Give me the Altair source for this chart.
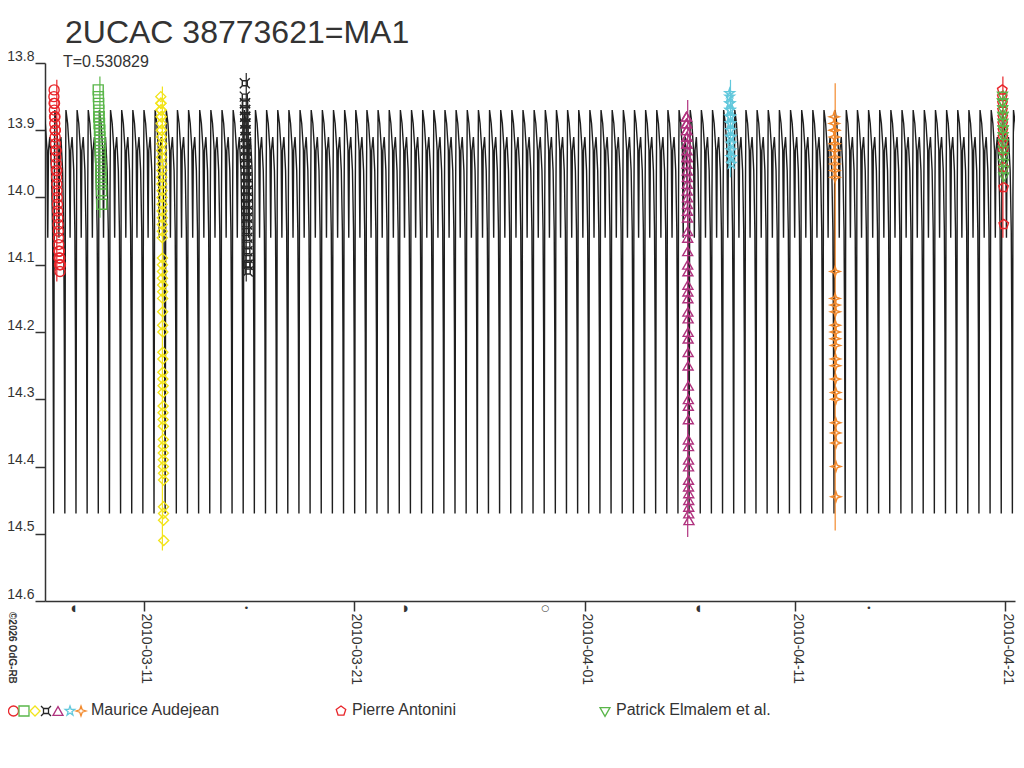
import altair as alt
import pandas as pd
from datetime import datetime, timezone

# ---------------- data ----------------
TITLE = "2UCAC 38773621=MA1"
SUBTITLE = "T=0.530829"
T_PERIOD = 0.530829
MIN_EPOCH = 24.748          # a model minimum, day of March 2010 (UTC, Mar 1 00:00 = 1.0)

# one cycle of the model light curve (phase from minimum, magnitude)
TEMPLATE_PHASE = [0.00, 0.05, 0.10, 0.25, 0.40, 0.47, 0.53, 0.65, 0.80, 0.90, 0.95]
TEMPLATE_MAG = [14.47, 14.00, 13.87, 13.89, 13.93, 14.06, 13.93, 13.91, 13.96, 14.05, 14.20]

DOMAIN_DAYS = [6.286, 52.476]
TICK_DAYS = [11, 21, 32, 42, 52]
Y_TICKS = [13.8, 13.9, 14.0, 14.1, 14.2, 14.3, 14.4, 14.5, 14.6]

MOON_DAYS = [7.654, 15.876, 23.458, 30.101, 37.401, 45.520]
MOON_SYMBOLS = ["◖", "•", "◗", "○", "◖", "•"]

# Maurice Audejean sessions
RED_T = [6.71, 6.72, 6.72, 6.73, 6.74, 6.74, 6.75, 6.76, 6.77, 6.77, 6.78, 6.79, 6.80, 6.80, 6.81, 6.82, 6.83, 6.84,
         6.85, 6.85, 6.86, 6.87, 6.88, 6.89, 6.90, 6.91, 6.92, 6.93, 6.94, 6.95, 6.96, 6.97, 6.98, 6.99, 7.00, 7.02]
RED_M = [13.85, 13.84, 13.86, 13.87, 13.86, 13.88, 13.89, 13.88, 13.90, 13.91, 13.90, 13.92, 13.93, 13.94, 13.93,
         13.95, 13.96, 13.97, 13.96, 13.98, 13.99, 14.00, 14.01, 14.02, 14.03, 14.04, 14.05, 14.06, 14.07, 14.08,
         14.09, 14.08, 14.10, 14.09, 14.11, 14.10]

GRN_T = [8.82, 8.83, 8.84, 8.85, 8.85, 8.86, 8.87, 8.88, 8.88, 8.89, 8.90, 8.91, 8.92, 8.93, 8.94, 8.95, 8.96, 8.97,
         8.98, 8.99]
GRN_M = [13.84, 13.85, 13.86, 13.87, 13.88, 13.88, 13.89, 13.89, 13.90, 13.90, 13.91, 13.92, 13.93, 13.94, 13.95,
         13.96, 13.97, 13.98, 13.99, 14.01]

YEL_T = [11.80, 11.80, 11.81, 11.81, 11.81, 11.82, 11.82, 11.82, 11.83, 11.83, 11.83, 11.84, 11.84, 11.84, 11.85,
         11.85, 11.85, 11.85, 11.86, 11.86, 11.86, 11.86, 11.87, 11.87, 11.87, 11.87, 11.88, 11.88, 11.88, 11.88,
         11.89, 11.89, 11.89, 11.89, 11.89, 11.90, 11.90, 11.90, 11.90, 11.90, 11.91, 11.91, 11.91, 11.91, 11.91,
         11.92, 11.92, 11.92, 11.92, 11.92, 11.92, 11.93, 11.93, 11.93, 11.93, 11.93, 11.94]
YEL_M = [13.85, 13.86, 13.86, 13.87, 13.87, 13.88, 13.88, 13.89, 13.90, 13.90, 13.91, 13.92, 13.93, 13.94, 13.95,
         13.96, 13.97, 13.98, 13.99, 14.00, 14.01, 14.02, 14.03, 14.04, 14.05, 14.06, 14.09, 14.10, 14.11, 14.12,
         14.13, 14.14, 14.15, 14.17, 14.19, 14.20, 14.23, 14.24, 14.26, 14.27, 14.28, 14.29, 14.31, 14.32, 14.33,
         14.34, 14.36, 14.37, 14.38, 14.39, 14.40, 14.41, 14.42, 14.46, 14.47, 14.48, 14.51]

BLK_T = [15.80, 15.80, 15.81, 15.81, 15.81, 15.82, 15.82, 15.82, 15.83, 15.83, 15.83, 15.84, 15.84, 15.84, 15.85,
         15.85, 15.85, 15.86, 15.86, 15.86, 15.86, 15.87, 15.87, 15.87, 15.88, 15.88, 15.88, 15.88, 15.89, 15.89,
         15.89, 15.90, 15.90, 15.90, 15.90, 15.91, 15.91, 15.91, 15.92, 15.92, 15.92, 15.93, 15.93, 15.93, 15.94]
BLK_M = [13.83, 13.85, 13.86, 13.86, 13.87, 13.87, 13.88, 13.88, 13.89, 13.89, 13.90, 13.90, 13.91, 13.91, 13.92,
         13.92, 13.93, 13.93, 13.94, 13.94, 13.95, 13.95, 13.96, 13.96, 13.97, 13.97, 13.98, 13.98, 13.99, 13.99,
         14.00, 14.01, 14.01, 14.02, 14.03, 14.03, 14.04, 14.05, 14.06, 14.07, 14.08, 14.09, 14.10, 14.10, 14.11]

PUR_T = [36.83, 36.83, 36.83, 36.84, 36.84, 36.84, 36.85, 36.85, 36.85, 36.85, 36.86, 36.86, 36.86, 36.86, 36.87,
         36.87, 36.87, 36.87, 36.88, 36.88, 36.88, 36.88, 36.89, 36.89, 36.89, 36.89, 36.90, 36.90, 36.90, 36.90,
         36.90, 36.91, 36.91, 36.91, 36.91, 36.91, 36.92, 36.92, 36.92, 36.92, 36.92, 36.93, 36.93, 36.93, 36.93,
         36.93, 36.94, 36.94, 36.94, 36.94, 36.95]
PUR_M = [13.88, 13.88, 13.89, 13.89, 13.90, 13.90, 13.91, 13.91, 13.92, 13.92, 13.93, 13.94, 13.94, 13.95, 13.96,
         13.97, 13.98, 13.99, 14.00, 14.01, 14.02, 14.03, 14.05, 14.06, 14.08, 14.10, 14.11, 14.13, 14.14, 14.15,
         14.17, 14.18, 14.20, 14.21, 14.23, 14.25, 14.28, 14.30, 14.31, 14.33, 14.36, 14.37, 14.39, 14.40, 14.42,
         14.43, 14.44, 14.45, 14.46, 14.47, 14.48]

CYN_T = [38.89, 38.89, 38.90, 38.90, 38.91, 38.91, 38.92, 38.92, 38.93, 38.93, 38.93, 38.94, 38.94, 38.95, 38.95,
         38.96, 38.96, 38.97]
CYN_M = [13.845, 13.85, 13.86, 13.86, 13.87, 13.87, 13.88, 13.88, 13.89, 13.89, 13.90, 13.91, 13.91, 13.92, 13.93,
         13.94, 13.94, 13.95]

ORG_T = [43.87, 43.87, 43.88, 43.88, 43.88, 43.89, 43.89, 43.89, 43.90, 43.90, 43.90, 43.91, 43.91, 43.91, 43.91,
         43.92, 43.92, 43.92, 43.92, 43.93, 43.93, 43.93, 43.93, 43.94, 43.94, 43.94, 43.94, 43.95, 43.95, 43.95]
ORG_M = [13.88, 13.89, 13.90, 13.90, 13.91, 13.92, 13.92, 13.93, 13.94, 13.95, 13.96, 13.97, 14.11, 14.15, 14.16,
         14.17, 14.19, 14.20, 14.21, 14.22, 14.24, 14.25, 14.27, 14.29, 14.30, 14.335, 14.35, 14.365, 14.40, 14.445]

# Pierre Antonini
PEN_T = [51.87, 51.87, 51.88, 51.88, 51.89, 51.89, 51.90, 51.90, 51.91, 51.91, 51.92, 51.93, 51.94]
PEN_M = [13.84, 13.85, 13.86, 13.87, 13.88, 13.89, 13.90, 13.91, 13.92, 13.93, 13.955, 13.985, 14.04]

# Patrick Elmalem et al.
GTR_T = [51.88, 51.88, 51.89, 51.89, 51.90, 51.90, 51.90, 51.91, 51.91, 51.91, 51.92, 51.92, 51.93, 51.93, 51.94,
         51.94]
GTR_M = [13.85, 13.86, 13.86, 13.87, 13.88, 13.88, 13.89, 13.90, 13.90, 13.91, 13.92, 13.93, 13.94, 13.95, 13.96,
         13.97]

SESSION_ERR = [0.015, 0.02, 0.015, 0.015, 0.025, 0.02, 0.05, 0.02, 0.01]

OBSERVERS = ["Maurice Audejean", "Pierre Antonini", "Patrick Elmalem et al."]

# ---------------- styles ----------------
C_RED, C_GRN, C_YEL, C_BLK = "#e8262b", "#5ab64a", "#f2e41c", "#262626"
C_PUR, C_CYN, C_ORG = "#b0327e", "#62c8dc", "#f28a2e"
TXT = "#333333"
FONT = "Liberation Sans"

P_CURRENCY = ("M-0.5,-0.5L0.5,-0.5L0.5,0.5L-0.5,0.5Z"
              "M-0.5,-0.5L-1,-1M0.5,-0.5L1,-1M0.5,0.5L1,1M-0.5,0.5L-1,1")
P_STAR5 = ("M0,-1L0.235,-0.324L0.951,-0.309L0.38,0.124L0.588,0.809L0,0.4"
           "L-0.588,0.809L-0.38,0.124L-0.951,-0.309L-0.235,-0.324Z")
P_STAR4 = "M0,-1L0.25,-0.25L1,0L0.25,0.25L0,1L-0.25,0.25L-1,0L-0.25,-0.25Z"
P_PENT = "M0,-1L0.951,-0.309L0.588,0.809L-0.588,0.809L-0.951,-0.309Z"

KEYS = ["a_red", "a_grn", "a_yel", "a_blk", "a_pur", "a_cyn", "a_org", "antonini", "elmalem"]
COLORS = [C_RED, C_GRN, C_YEL, C_BLK, C_PUR, C_CYN, C_ORG, C_RED, C_GRN]
SHAPES = ["circle", "square", "diamond", P_CURRENCY, "triangle-up", P_STAR5, P_STAR4, P_PENT, "triangle-down"]

# ---------------- tables ----------------
BASE_MS = datetime(2010, 3, 1, tzinfo=timezone.utc).timestamp() * 1000.0


def ms(day):
    return BASE_MS + (day - 1.0) * 86400000.0


sessions = [(RED_T, RED_M), (GRN_T, GRN_M), (YEL_T, YEL_M), (BLK_T, BLK_M), (PUR_T, PUR_M),
            (CYN_T, CYN_M), (ORG_T, ORG_M), (PEN_T, PEN_M), (GTR_T, GTR_M)]
rows = []
for key, (ts, mags), err in zip(KEYS, sessions, SESSION_ERR):
    for t, m in zip(ts, mags):
        rows.append({"t": ms(t), "mag": m, "lo": m - err, "hi": m + err, "series": key})
pts = pd.DataFrame(rows)

mrows = []
for n in range(-40, 60):
    for ph, m in zip(TEMPLATE_PHASE, TEMPLATE_MAG):
        d = MIN_EPOCH + (n + ph) * T_PERIOD
        if DOMAIN_DAYS[0] - 1 <= d <= DOMAIN_DAYS[1] + 1:
            mrows.append({"t": ms(d), "mag": m})
model = pd.DataFrame(mrows)

moon = pd.DataFrame({"t": [ms(d) for d in MOON_DAYS], "sym": MOON_SYMBOLS})

# ---------------- encodings ----------------
X_AXIS = alt.Axis(values=[ms(d) for d in TICK_DAYS],
                  labelExpr="utcFormat(datum.value, '%Y-%m-%d')",
                  labelAngle=90, labelAlign="left", labelBaseline="alphabetic",
                  labelPadding=2, labelOffset=-2, labelFontSize=14, labelFont=FONT, labelColor=TXT,
                  tickSize=10, tickColor=TXT, tickWidth=1.5, domainColor=TXT, domainWidth=1.5,
                  grid=False, title="", labelOverlap=False, labelFlush=False)
Y_AXIS = alt.Axis(values=Y_TICKS, format=".1f", labelFontSize=14, labelFont=FONT, labelColor=TXT,
                  labelPadding=1, labelBaseline="bottom", tickSize=10, tickColor=TXT, tickWidth=1.5,
                  domainColor=TXT, domainWidth=1.5, grid=False, title="", labelOverlap=False,
                  labelFlush=False)

X_ENC = alt.X("t:T", scale=alt.Scale(type="utc", domain=[ms(DOMAIN_DAYS[0]), ms(DOMAIN_DAYS[1])]), axis=X_AXIS)
Y_ENC = alt.Y("mag:Q", scale=alt.Scale(domain=[13.8, 14.6], reverse=True), axis=Y_AXIS)
COLOR_ENC = alt.Color("series:N", scale=alt.Scale(domain=KEYS, range=COLORS), legend=None)
SHAPE_ENC = alt.Shape("series:N", scale=alt.Scale(domain=KEYS, range=SHAPES), legend=None)

line = alt.Chart(model).mark_line(clip=True, color="#1e1e1e", strokeWidth=1.4).encode(x=X_ENC, y=Y_ENC)

# vertical error span of each session
errs = alt.Chart(pts).mark_rule(strokeWidth=1.2, clip=True).encode(
    x=alt.X("mean(t):T"), y=alt.Y("min(lo):Q"), y2=alt.Y2("max(hi):Q"), color=COLOR_ENC)

points = alt.Chart(pts).mark_point(filled=False, size=100, strokeWidth=1.4, opacity=1).encode(
    x=X_ENC, y=Y_ENC, color=COLOR_ENC, shape=SHAPE_ENC)

moons = alt.Chart(moon).mark_text(fontSize=9, font="DejaVu Sans", color=TXT, baseline="middle").encode(
    x=X_ENC, y=alt.value(545), text="sym:N")

one = pd.DataFrame({"k": [0]})


def txt(text, x, y, size, **kw):
    return alt.Chart(one).mark_text(text=text, align="left", baseline="alphabetic", fontSize=size,
                                    font=FONT, color=TXT, **kw).encode(x=alt.value(x), y=alt.value(y))


def sym(shape, color, x, y):
    return alt.Chart(one).mark_point(shape=shape, color=color, filled=False, size=100, strokeWidth=1.3,
                                     opacity=1).encode(x=alt.value(x), y=alt.value(y))


layers = [line, errs, points, moons,
          txt(TITLE, 20, -20, 32),
          txt(SUBTITLE, 18, 3.5, 16),
          txt("©2026 OdG-RB", -36, 549, 10, angle=90, fontWeight="bold")]

leg_y = 648
maurice_x = [-31.5, -21, -10, 1, 13, 25, 36]
for i in range(7):
    layers.append(sym(SHAPES[i], COLORS[i], maurice_x[i], leg_y))
layers.append(txt(OBSERVERS[0], 46, 652, 16))
layers.append(sym(SHAPES[7], COLORS[7], 296, leg_y))
layers.append(txt(OBSERVERS[1], 307, 652, 16))
layers.append(sym(SHAPES[8], COLORS[8], 560, leg_y + 1))
layers.append(txt(OBSERVERS[2], 571, 652, 16))

chart = alt.layer(*layers).properties(
    width=970, height=538,
    padding={"left": 37, "top": 55, "right": 1, "bottom": 130},
    autosize=alt.AutoSizeParams(type="none"),
).configure(font=FONT).configure_view(stroke="transparent", strokeWidth=0)

chart.save("out.html", embed_options={"renderer": "svg", "actions": False})
